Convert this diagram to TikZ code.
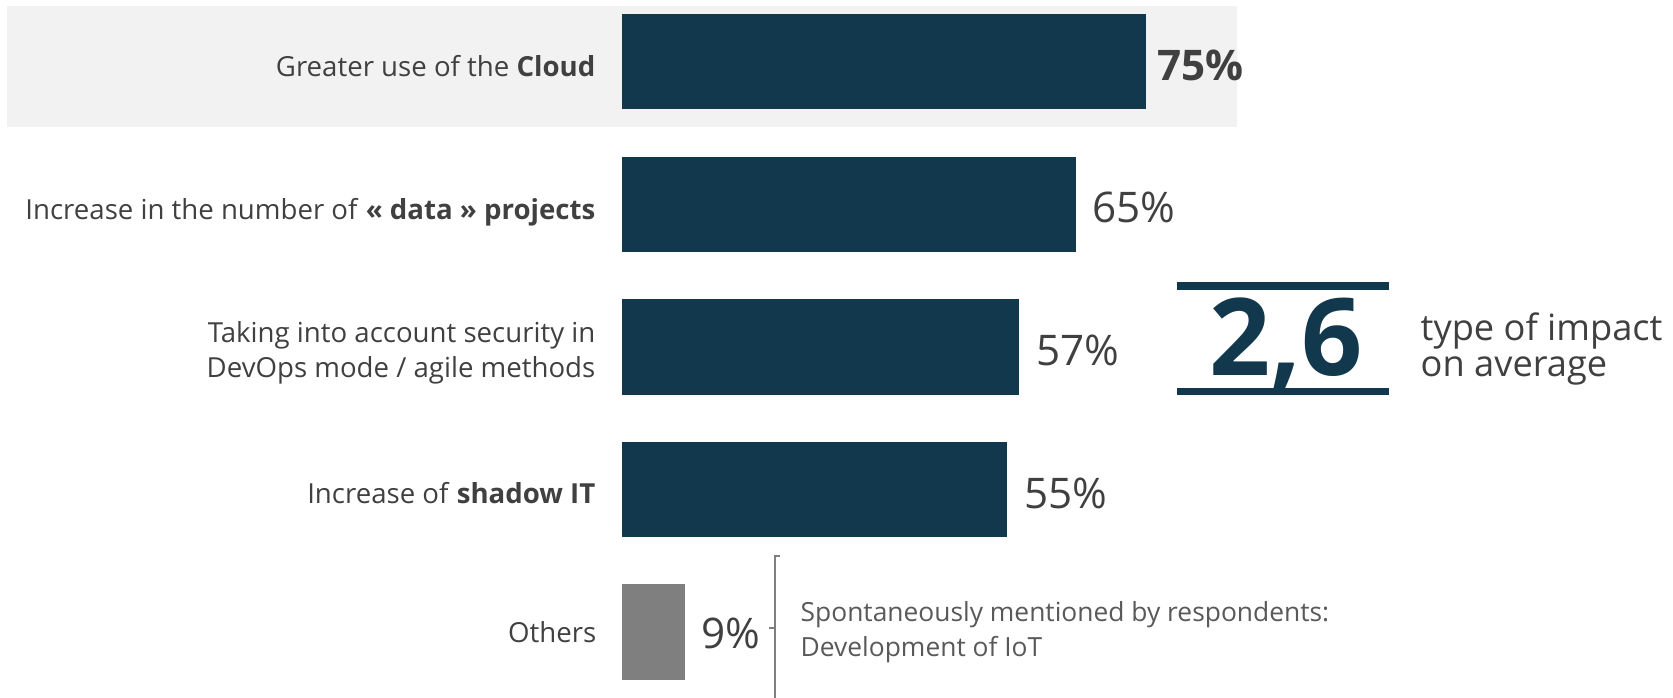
\documentclass[tikz,border=0pt]{standalone}
\usepackage{fontspec}
\setmainfont{Open Sans}
\definecolor{barblue}{HTML}{12384D}
\definecolor{bargray}{HTML}{7F7F7F}
\definecolor{bandgray}{HTML}{F2F2F2}
\definecolor{txtgray}{HTML}{404040}
\definecolor{notegray}{HTML}{595959}
\begin{document}
\begin{tikzpicture}[x=0.01cm, y=-0.01cm,
  itemlbl/.style={txtgray, inner sep=0, align=right, font=\fontsize{7.85pt}{9.96pt}\selectfont},
  pct/.style={txtgray, inner sep=0, anchor=base west, font=\fontsize{12pt}{14pt}\selectfont}]
\useasboundingbox (0,0) rectangle (1673,698);

% Highlighted row (background band)
\fill[bandgray] (7,6) rectangle (1237,127);

% Bars
\fill[barblue] (622,14) rectangle (1146,109);
\fill[barblue] (622,157) rectangle (1076,252);
\fill[barblue] (622,299) rectangle (1019,395);
\fill[barblue] (622,442) rectangle (1007,537);
\fill[bargray] (622,584) rectangle (685,680);

% Item labels
\node[itemlbl, anchor=base east] (cloud) at (596,77) {Greater use of the \textbf{Cloud}};
\node[itemlbl, anchor=base east] (data) at (596,220) {Increase in the number of \textbf{« data » projects}};
\node[itemlbl, anchor=east] (secu) at (596,353) {Taking into account security in\\DevOps mode / agile methods};
\node[itemlbl, anchor=base east] (shadow) at (596,504) {Increase of \textbf{shadow IT}};
\node[itemlbl, anchor=base east] (others) at (597,643) {Others};

% Values
\node[pct, font=\fontsize{12pt}{14pt}\selectfont\bfseries] (v75) at (1157,81) {75\%};
\node[pct] (v65) at (1092,223) {65\%};
\node[pct] (v57) at (1036,366) {57\%};
\node[pct] (v55) at (1024,509) {55\%};
\node[pct] (v9) at (701,649) {9\%};

% Average number of impacts
\draw[barblue, line width=2.3pt] (1177,286) -- (1389,286);
\draw[barblue, line width=2.1pt] (1177,391.5) -- (1389,391.5);
\node[barblue, inner sep=0, anchor=base, font=\fontsize{30.5pt}{32pt}\selectfont\bfseries] (avg) at (1286,376) {2,6};
\node[txtgray, inner sep=0, anchor=west, align=left, font=\fontsize{10.3pt}{10.3pt}\selectfont] (avgtxt) at (1420,349) {type of impact\\on average};

% Others: bracket and note
\draw[bargray, line width=0.5pt] (780,556) -- (775,556) -- (775,698);
\draw[bargray, line width=0.5pt] (769,628) -- (775,628);
\node[notegray, inner sep=0, anchor=west, align=left, font=\fontsize{7.5pt}{9.96pt}\selectfont] (note) at (800,632) {Spontaneously mentioned by respondents:\\Development of IoT};
\end{tikzpicture}
\end{document}
